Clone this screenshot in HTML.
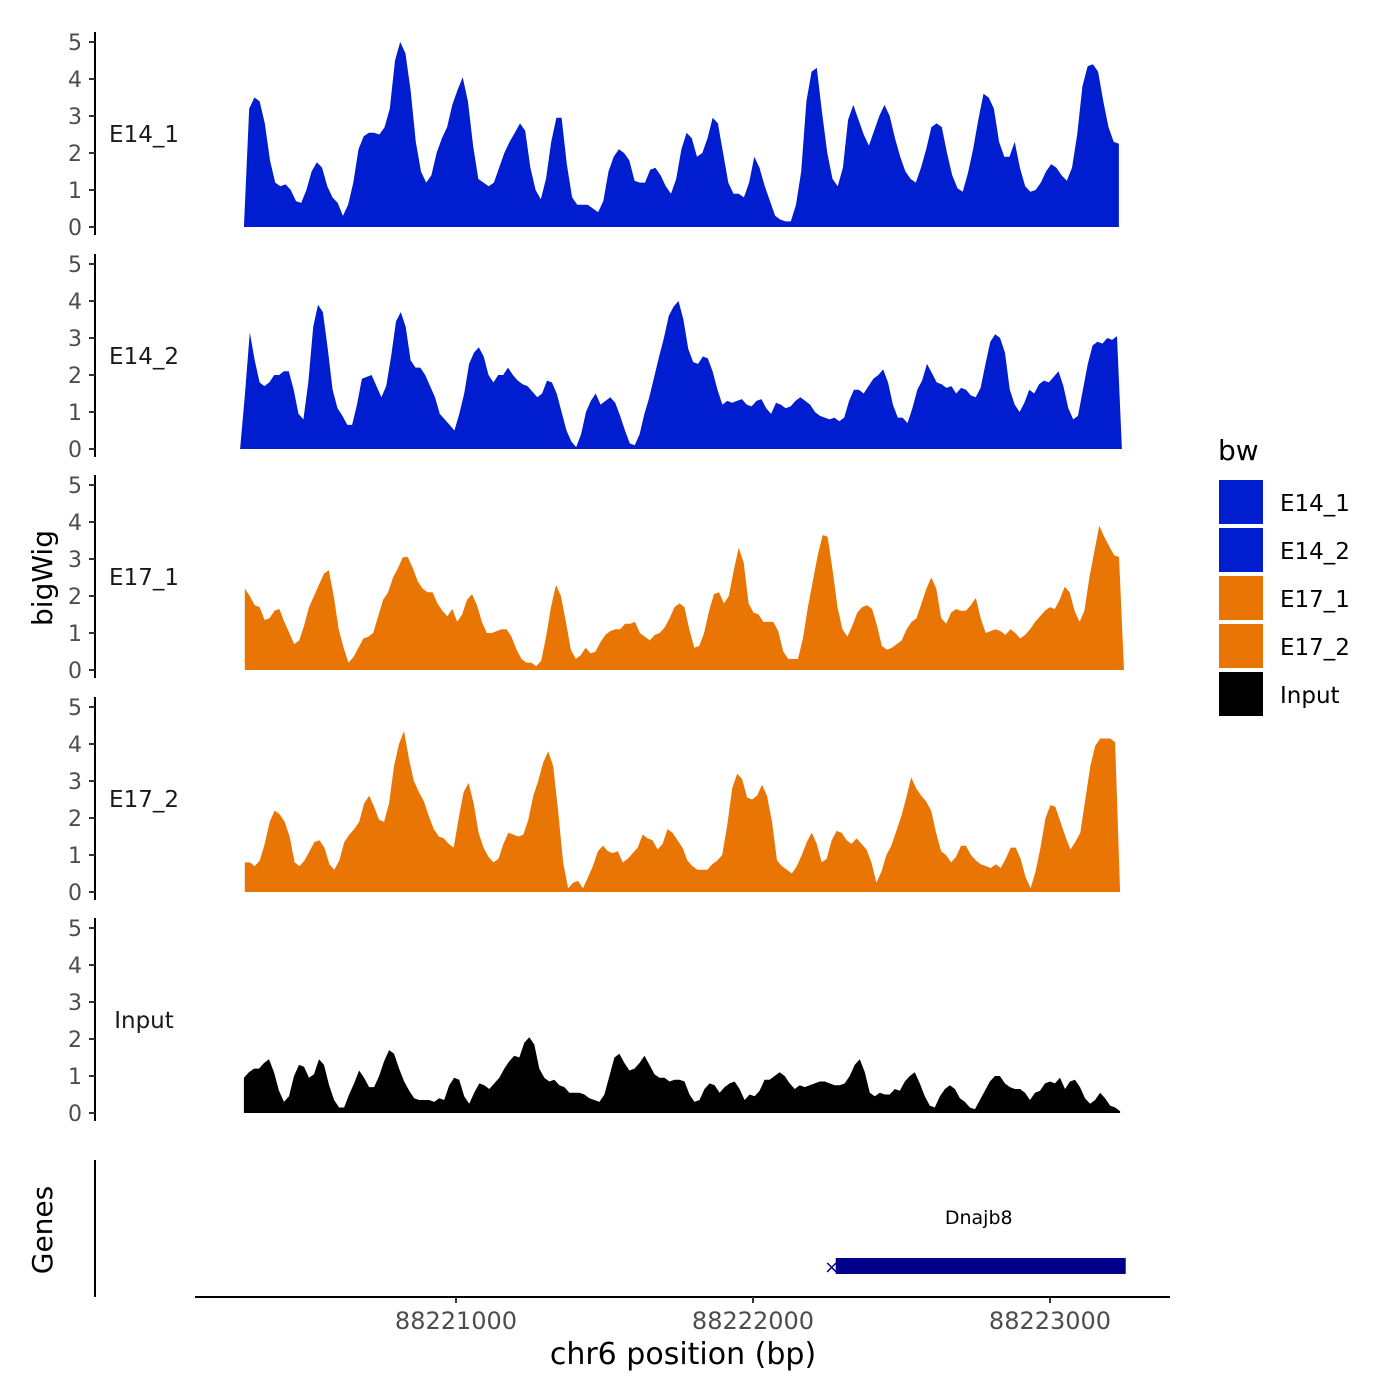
<!DOCTYPE html>
<html><head><meta charset="utf-8"><style>
html,body{margin:0;padding:0;background:#fff;}
svg{display:block;font-family:"DejaVu Sans","Liberation Sans",sans-serif;}
</style></head><body>
<svg id="chart" width="1400" height="1400" viewBox="0 0 1400 1400" xmlns="http://www.w3.org/2000/svg">
<rect width="1400" height="1400" fill="#fff"/>
<g id="tracks"></g>
<text x="52" y="578" transform="rotate(-90 52 578)" text-anchor="middle" font-size="28" fill="#000">bigWig</text>
<text x="52" y="1230" transform="rotate(-90 52 1230)" text-anchor="middle" font-size="28" fill="#000">Genes</text>
<line x1="95" y1="1160" x2="95" y2="1297" stroke="#000" stroke-width="2"/>
<g id="genes"></g>
<line x1="195" y1="1297" x2="1170" y2="1297" stroke="#000" stroke-width="2"/>
<g id="xticks"></g>
<text x="683" y="1364" text-anchor="middle" font-size="30" fill="#000">chr6 position (bp)</text>
<g id="legend">
<text x="1218" y="460" font-size="28" fill="#000">bw</text>
</g>
</svg>
<script>
const trackNames = ["E14_1","E14_2","E17_1","E17_2","Input"];
const trackColors = ["#001ECF","#001ECF","#E87504","#E87504","#000000"];
const trackStart = [88220286, 88220273, 88220289, 88220289, 88220286];
const trackEnd = [88223232, 88223242, 88223249, 88223236, 88223236];
const yTicks = [0,1,2,3,4,5];
const xTicks = [88221000, 88222000, 88223000];
const xTickLabels = ["88221000","88222000","88223000"];

const valsE14_1 = [0,3.2,3.5,3.4,2.8,1.8,1.2,1.1,1.15,1.0,0.7,0.65,1.0,1.5,1.75,1.6,1.1,0.8,0.65,0.3,0.6,1.2,2.1,2.45,2.55,2.55,2.5,2.7,3.2,4.5,5.0,4.7,3.7,2.3,1.5,1.2,1.4,2.0,2.4,2.7,3.3,3.7,4.05,3.4,2.2,1.3,1.2,1.1,1.2,1.6,2.0,2.3,2.55,2.8,2.6,1.6,1.0,0.75,1.3,2.3,2.95,2.95,1.7,0.8,0.6,0.6,0.6,0.5,0.4,0.7,1.5,1.9,2.1,2.0,1.8,1.25,1.2,1.2,1.55,1.6,1.4,1.1,0.9,1.3,2.1,2.55,2.4,1.9,2.0,2.4,2.95,2.8,2.0,1.2,0.9,0.9,0.8,1.2,1.9,1.6,1.1,0.7,0.3,0.2,0.15,0.15,0.6,1.5,3.4,4.2,4.3,3.1,2.0,1.3,1.1,1.6,2.9,3.3,2.9,2.5,2.2,2.6,3.0,3.3,3.0,2.4,1.9,1.5,1.3,1.2,1.6,2.1,2.7,2.8,2.7,2.0,1.4,1.05,0.95,1.45,2.1,2.9,3.6,3.5,3.2,2.3,1.9,1.9,2.3,1.6,1.1,0.95,1.0,1.2,1.5,1.7,1.6,1.4,1.25,1.6,2.5,3.8,4.35,4.4,4.2,3.4,2.7,2.3,2.25];
const valsE14_2 = [0,1.5,3.15,2.4,1.8,1.7,1.8,2.0,2.0,2.1,2.1,1.6,0.95,0.8,1.8,3.3,3.9,3.7,2.7,1.6,1.1,0.9,0.65,0.65,1.2,1.9,1.95,2.0,1.7,1.4,1.7,2.5,3.45,3.7,3.3,2.4,2.2,2.2,2.0,1.7,1.4,0.95,0.8,0.65,0.5,0.95,1.5,2.3,2.6,2.75,2.5,2.0,1.8,2.0,2.0,2.2,2.0,1.85,1.75,1.7,1.55,1.4,1.5,1.85,1.8,1.5,1.0,0.5,0.2,0.05,0.4,1.0,1.3,1.5,1.2,1.3,1.4,1.25,0.9,0.5,0.15,0.1,0.4,0.95,1.4,1.95,2.5,3.0,3.6,3.85,4.0,3.5,2.7,2.35,2.3,2.5,2.45,2.1,1.6,1.2,1.3,1.25,1.3,1.35,1.2,1.15,1.3,1.35,1.1,0.95,1.25,1.2,1.1,1.15,1.3,1.4,1.3,1.2,1.0,0.9,0.85,0.8,0.85,0.75,0.85,1.3,1.6,1.6,1.5,1.7,1.9,2.0,2.15,1.8,1.2,0.85,0.85,0.7,1.1,1.6,1.85,2.3,2.05,1.8,1.75,1.65,1.7,1.5,1.65,1.6,1.45,1.4,1.65,2.3,2.9,3.1,3.0,2.6,1.6,1.2,1.0,1.25,1.6,1.5,1.75,1.85,1.8,1.95,2.1,1.7,1.1,0.8,0.9,1.6,2.3,2.8,2.9,2.85,3.0,2.95,3.05,0];
const valsE17_1 = [2.2,2.0,1.75,1.7,1.35,1.4,1.6,1.65,1.3,1.0,0.7,0.8,1.2,1.7,2.0,2.3,2.6,2.7,2.0,1.1,0.6,0.2,0.35,0.6,0.85,0.9,1.0,1.45,1.9,2.1,2.5,2.75,3.05,3.05,2.75,2.4,2.2,2.1,2.1,1.8,1.6,1.45,1.65,1.3,1.5,1.9,2.05,1.75,1.3,1.0,1.0,1.05,1.1,1.1,0.9,0.55,0.3,0.2,0.2,0.1,0.25,0.9,1.7,2.3,2.0,1.3,0.55,0.3,0.4,0.6,0.45,0.5,0.75,0.95,1.05,1.1,1.1,1.25,1.25,1.3,1.0,0.9,0.8,0.95,1.0,1.15,1.4,1.7,1.8,1.7,1.1,0.6,0.65,1.0,1.6,2.05,2.1,1.8,2.0,2.7,3.3,2.9,1.8,1.55,1.5,1.3,1.3,1.3,1.05,0.5,0.3,0.3,0.3,0.85,1.7,2.4,3.1,3.65,3.6,2.7,1.7,1.1,0.9,1.2,1.55,1.7,1.75,1.65,1.2,0.65,0.55,0.6,0.7,0.8,1.1,1.3,1.4,1.8,2.2,2.5,2.2,1.4,1.25,1.55,1.65,1.6,1.6,1.75,1.95,1.4,1.0,1.05,1.1,1.05,0.95,1.1,1.0,0.85,0.95,1.1,1.3,1.45,1.6,1.7,1.65,1.9,2.25,2.1,1.6,1.3,1.6,2.5,3.2,3.9,3.6,3.35,3.1,3.05,0];
const valsE17_2 = [0.8,0.8,0.7,0.85,1.3,1.9,2.2,2.1,1.9,1.5,0.8,0.7,0.85,1.1,1.35,1.4,1.2,0.75,0.6,0.85,1.35,1.55,1.7,1.9,2.4,2.6,2.3,1.95,1.9,2.4,3.4,4.0,4.35,3.6,3.0,2.7,2.45,2.05,1.7,1.5,1.45,1.3,1.2,2.0,2.7,2.95,2.4,1.6,1.2,0.95,0.8,0.9,1.3,1.6,1.55,1.5,1.55,1.95,2.6,3.0,3.5,3.8,3.4,2.2,0.8,0.1,0.25,0.3,0.1,0.4,0.7,1.1,1.25,1.1,1.05,1.1,0.8,0.9,1.05,1.2,1.55,1.45,1.4,1.15,1.3,1.7,1.6,1.4,1.2,0.85,0.7,0.6,0.6,0.6,0.75,0.85,1.0,1.8,2.8,3.2,3.05,2.55,2.5,2.6,2.9,2.6,1.9,0.85,0.7,0.6,0.5,0.7,1.0,1.35,1.6,1.3,0.8,0.9,1.4,1.65,1.6,1.4,1.3,1.45,1.3,1.15,0.8,0.25,0.55,1.0,1.25,1.65,2.05,2.55,3.1,2.8,2.6,2.45,2.2,1.6,1.1,1.0,0.8,0.95,1.25,1.25,1.0,0.85,0.75,0.7,0.65,0.75,0.65,0.9,1.2,1.2,0.9,0.4,0.1,0.55,1.2,2.0,2.35,2.3,1.9,1.5,1.15,1.35,1.6,2.5,3.4,3.95,4.15,4.15,4.15,4.05,0];
const valsInput = [0.95,1.1,1.2,1.2,1.35,1.45,1.1,0.6,0.3,0.45,1.0,1.3,1.25,0.95,1.05,1.45,1.3,0.75,0.35,0.15,0.15,0.5,0.8,1.15,0.95,0.7,0.7,1.0,1.4,1.7,1.6,1.2,0.85,0.6,0.4,0.35,0.35,0.35,0.3,0.4,0.35,0.75,0.95,0.9,0.45,0.25,0.55,0.8,0.75,0.65,0.8,0.95,1.2,1.4,1.55,1.5,1.9,2.05,1.85,1.2,0.95,0.85,0.9,0.75,0.7,0.55,0.55,0.55,0.5,0.4,0.35,0.3,0.5,1.0,1.5,1.6,1.35,1.15,1.2,1.35,1.55,1.3,1.05,0.95,0.95,0.85,0.9,0.9,0.85,0.5,0.3,0.35,0.65,0.8,0.75,0.55,0.7,0.8,0.85,0.65,0.35,0.5,0.45,0.6,0.9,0.9,1.0,1.1,1.0,0.8,0.65,0.75,0.7,0.75,0.8,0.85,0.85,0.8,0.75,0.75,0.8,1.0,1.3,1.45,1.1,0.55,0.45,0.55,0.5,0.5,0.65,0.6,0.85,1.0,1.1,0.8,0.45,0.2,0.15,0.45,0.65,0.75,0.65,0.4,0.3,0.15,0.1,0.35,0.6,0.85,1.0,1.0,0.8,0.7,0.65,0.65,0.55,0.35,0.55,0.6,0.8,0.85,0.8,0.95,0.65,0.85,0.9,0.7,0.4,0.25,0.35,0.55,0.4,0.2,0.15,0.05];
const trackValues = [valsE14_1, valsE14_2, valsE17_1, valsE17_2, valsInput];

const geneName = "Dnajb8";
const geneStart = 88222265;
const geneEnd = 88223255;

const NS="http://www.w3.org/2000/svg";
const X0=456, XBP=88221000, XSCALE=297/1000;
const baselines=[227,449,670,892,1113];
const YUNIT=37;
function xs(bp){return X0+(bp-XBP)*XSCALE;}
function ys(k,v){return baselines[k]-v*YUNIT;}
function mk(tag,attrs,parent){const e=document.createElementNS(NS,tag);for(const a in attrs)e.setAttribute(a,attrs[a]);parent.appendChild(e);return e;}

const tracks=document.getElementById('tracks');
trackNames.forEach((name,k)=>{
  const g=mk('g',{},tracks);
  
  
  const vals=trackValues[k], n=vals.length;
  const s=trackStart[k], e=trackEnd[k];
  let d='M'+xs(s).toFixed(1)+','+baselines[k];
  vals.forEach((v,i)=>{const bp=s+i*(e-s)/(n-1);d+=' L'+xs(bp).toFixed(1)+','+ys(k,v).toFixed(1);});
  d+=' L'+xs(e).toFixed(1)+','+baselines[k]+' Z';
  const p=mk('path',{d:d,fill:trackColors[k]},g);
  
  
  const ax=mk('line',{x1:95,x2:95,y1:baselines[k]+8,y2:baselines[k]-195,stroke:'#000','stroke-width':2},g);
  
  
  yTicks.forEach(t=>{
    const y=ys(k,t);
    const tl=mk('line',{x1:89,x2:95,y1:y,y2:y,stroke:'#333','stroke-width':2},g);
    
    
    const tt=mk('text',{x:82,y:y+8,'text-anchor':'end','font-size':22,fill:'#4d4d4d'},g);
    tt.textContent=t;
    
    
  });
  const lb=mk('text',{x:144,y:baselines[k]-85,'text-anchor':'middle','font-size':23,fill:'#1a1a1a'},g);
  lb.textContent=name;
  
  
});

const genes=document.getElementById('genes');
const gx1=xs(geneStart), gx2=xs(geneEnd);
const gr=mk('rect',{x:gx1+4,y:1258,width:gx2-gx1-4,height:16,fill:'#00008B'},genes);


const gm=mk('text',{x:gx1,y:1273,'text-anchor':'middle','font-size':18,fill:'#00008B'},genes);
gm.textContent='×';


const gt=mk('text',{x:(gx1+gx2)/2,y:1224,'text-anchor':'middle','font-size':19,fill:'#000'},genes);
gt.textContent=geneName;



const xt=document.getElementById('xticks');
xTicks.forEach((t,i)=>{
  const x=xs(t);
  const l=mk('line',{x1:x,x2:x,y1:1297,y2:1303,stroke:'#333','stroke-width':2},xt);
  
  
  const tx=mk('text',{x:x,y:1329,'text-anchor':'middle','font-size':24,fill:'#4d4d4d'},xt);
  tx.textContent=xTickLabels[i];
  
  
});

const lg=document.getElementById('legend');
trackNames.forEach((name,k)=>{
  const y=480+k*48;
  const r=mk('rect',{x:1219,y:y,width:44,height:44,fill:trackColors[k]},lg);
  
  
  const t=mk('text',{x:1280,y:y+31,'font-size':23,fill:'#000'},lg);
  t.textContent=name;
  
  
});
</script>
</body></html>
